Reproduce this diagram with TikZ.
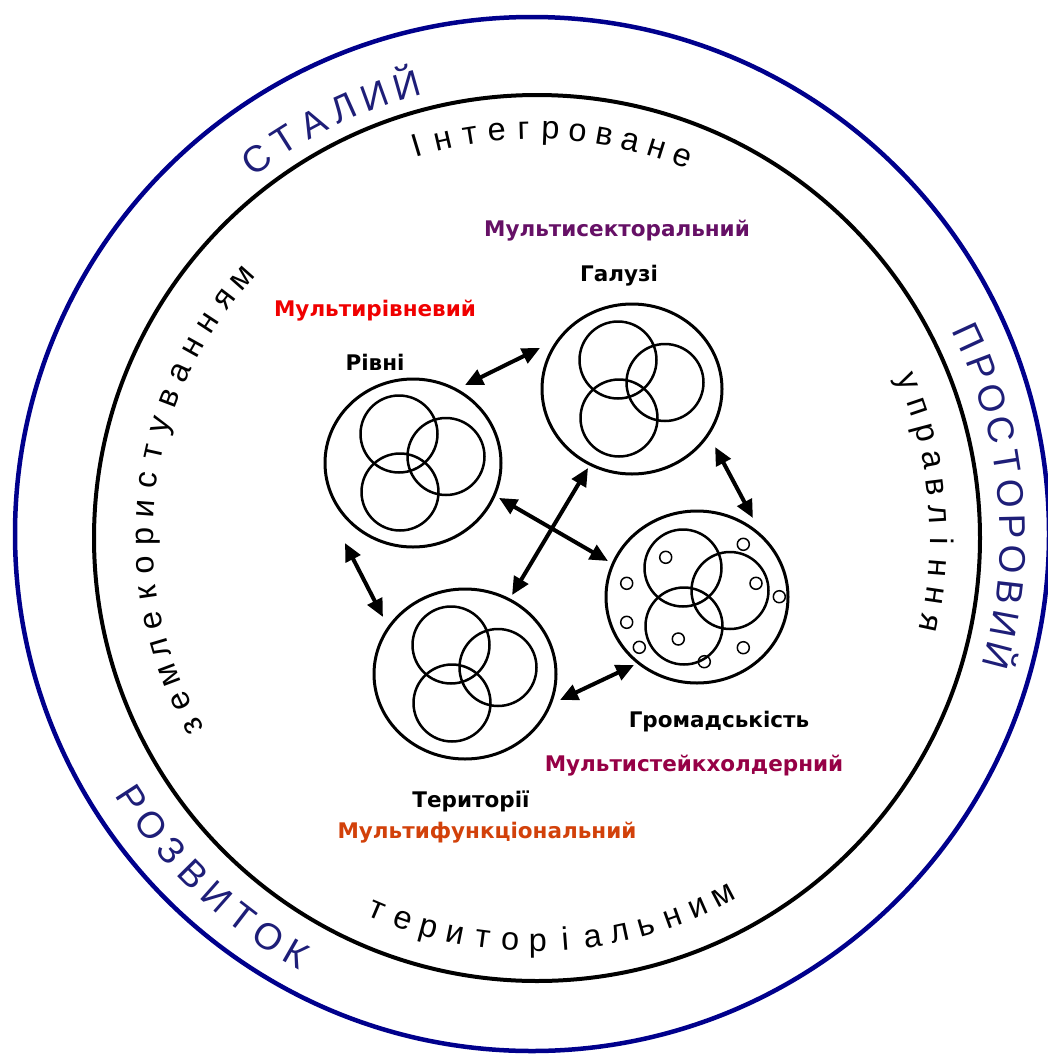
\documentclass[tikz,border=0pt]{standalone}
\usepackage{fontspec}
\setmainfont{DejaVu Sans}
\newfontfamily\ringfont{Liberation Sans}
\usetikzlibrary{shapes.geometric,arrows.meta,calc}
\definecolor{ringblue}{RGB}{0,0,140}
\definecolor{ringtext}{RGB}{30,30,120}
\definecolor{cpurple}{RGB}{102,16,102}
\definecolor{cred}{RGB}{240,0,0}
\definecolor{cmaroon}{RGB}{150,0,70}
\definecolor{corange}{RGB}{210,65,10}
% clockwise ring text (tops outward): #1 prefix, #2 start angle, #3 step, #4 radius, #5 style, #6 letters
\newcommand\ringcw[6]{%
  \foreach \ch [count=\i] in {#6} {%
    \node[#5, rotate={#2-(\i-1)*#3-90}] (#1\i) at ({#2-(\i-1)*#3}:#4) {\ch};}}
% counter-clockwise ring text (tops inward)
\newcommand\ringccw[6]{%
  \foreach \ch [count=\i] in {#6} {%
    \node[#5, rotate={#2+(\i-1)*#3+90}] (#1\i) at ({#2+(\i-1)*#3}:#4) {\ch};}}
\newcommand\vennset[1]{%
  \node[venn] (#1a) at ($(#1)+(-14,29)$) {};
  \node[venn] (#1b) at ($(#1)+(33,6.5)$) {};
  \node[venn] (#1c) at ($(#1)+(-13,-29)$) {};}
\begin{document}
\begin{tikzpicture}[x=1pt,y=1pt,
  bigc/.style={ellipse, draw, line width=3pt, inner sep=0pt},
  venn/.style={circle, draw, line width=2.5pt, minimum size=77pt, inner sep=0pt},
  dotc/.style={circle, draw, line width=1.5pt, minimum size=12pt, inner sep=0pt},
  dbl/.style={line width=4pt, {Triangle[length=18pt,width=16pt]}-{Triangle[length=18pt,width=16pt]}},
  lbl/.style={font=\fontsize{21.5}{26}\selectfont\bfseries, inner sep=0pt},
  ringI/.style={font=\ringfont\fontsize{32.5}{38}\selectfont, anchor=base, inner sep=0pt},
  ringO/.style={font=\ringfont\fontsize{37}{42}\selectfont, text=ringtext, anchor=base, inner sep=0pt},
]
\fill[white] (0,0) rectangle (1048,-1055);
\useasboundingbox (0,0) rectangle (1048,-1055);

% rings
\node[circle, draw=ringblue, line width=4.5pt, minimum size=1034pt, inner sep=0pt] (outer) at (532,-534) {};
\node[circle, draw=black, line width=4pt, minimum size=886pt, inner sep=0pt] (inner) at (537,-538) {};

% big circles
\node[bigc, minimum width=176pt, minimum height=168pt] (riv) at (413,-463) {};
\node[bigc, minimum width=180pt, minimum height=170pt] (gal) at (632,-389) {};
\node[bigc, minimum width=182pt, minimum height=172pt] (grom) at (697,-597) {};
\node[bigc, minimum width=182pt, minimum height=170pt] (ter) at (465,-674) {};

\vennset{riv}
\vennset{gal}
\vennset{grom}
\vennset{ter}

% small circles in grom
\node[dotc] (d1) at (665.7,-557.3) {};
\node[dotc] (d2) at (743.3,-544.3) {};
\node[dotc] (d3) at (626.7,-583.3) {};
\node[dotc] (d4) at (756,-583.3) {};
\node[dotc] (d5) at (779.3,-596.7) {};
\node[dotc] (d6) at (626.7,-622.3) {};
\node[dotc] (d7) at (678.3,-639) {};
\node[dotc] (d8) at (639.3,-647.3) {};
\node[dotc] (d9) at (743.3,-647.7) {};
\node[dotc] (d10) at (704.3,-661.7) {};

% arrows
\draw[dbl] ($(riv)+(56.3:93.7)$) -- ($(gal)+(156:100.7)$);
\draw[dbl] ($(riv)+(-22.1:92.8)$) -- ($(grom)+(158:96)$);
\draw[dbl] ($(ter)+(59.2:91.9)$) -- ($(gal)+(240.9:90.4)$);
\draw[dbl] ($(riv)+(229.6:105)$) -- ($(ter)+(145.2:99.9)$);
\draw[dbl] ($(gal)+(-34.9:101.3)$) -- ($(grom)+(54.7:96.8)$);
\draw[dbl] ($(ter)+(-15.3:98.5)$) -- ($(grom)+(227.2:92.7)$);

% labels
\node[lbl, text=cpurple] (lms) at (617,-231) {Мультисекторальний};
\node[lbl] (lgal) at (619,-276) {Галузі};
\node[lbl, text=cred] (lmr) at (375,-311) {Мультирівневий};
\node[lbl] (lriv) at (375,-362) {Рівні};
\node[lbl] (lgrom) at (719,-722) {Громадськість};
\node[lbl, text=cmaroon] (lmst) at (694,-766) {Мультистейкхолдерний};
\node[lbl] (lter) at (471,-801) {Території};
\node[lbl, text=corange] (lmf) at (487,-833) {Мультифункціональний};

% ring texts
\begin{scope}[shift={(535,-537)}]
\ringcw{ti}{106.8}{3.8}{398}{ringI}{І,н,т,е,г,р,о,в,а,н,е}
\ringcw{tu}{22.6}{3.87}{395}{ringI}{у,п,р,а,в,л,і,н,н,я}
\ringcw{tz}{209}{4.15}{382}{ringI}{з,е,м,л,е,к,о,р,и,с,т,у,в,а,н,н,я,м}
\ringccw{tt}{247}{3.9}{414}{ringI}{т,е,р,и,т,о,р,і,а,л,ь,н,и,м}
\ringcw{os}{126.4}{4.1}{457}{ringO}{С,Т,А,Л,И,Й}
\ringcw{op}{24.7}{3.91}{465}{ringO}{П,Р,О,С,Т,О,Р,О,В,И,Й}
\ringccw{or}{213}{3.89}{493}{ringO}{Р,О,З,В,И,Т,О,К}
\end{scope}
\end{tikzpicture}
\end{document}
